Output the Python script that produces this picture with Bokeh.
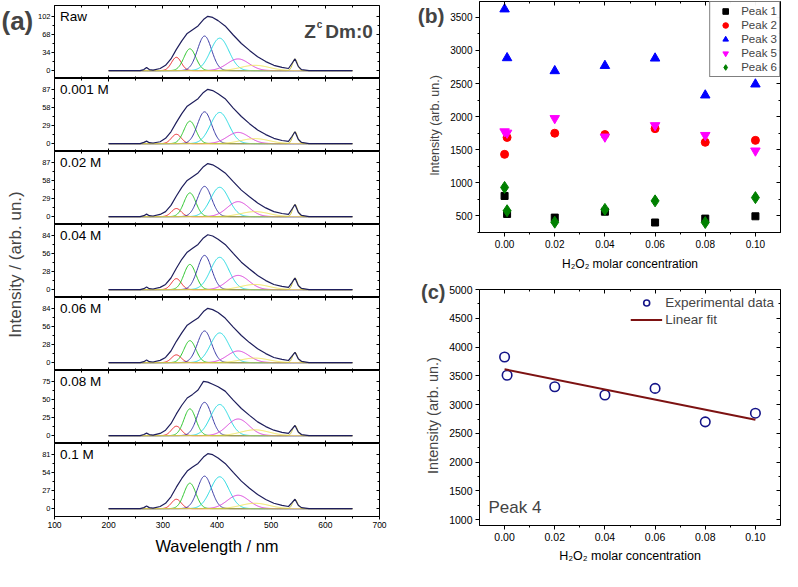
import numpy as np
from bokeh.plotting import figure
from bokeh.layouts import row, column
from bokeh.models import (Range1d, FixedTicker, SingleIntervalTicker, LinearAxis, Label,
                          NumeralTickFormatter)
from bokeh.embed import file_html
from bokeh.resources import INLINE

FONT = "Liberation Sans"

# ---------------- Panel (a) data ----------------
panel_names = ["Raw", "0.001 M", "0.02 M", "0.04 M", "0.06 M", "0.08 M", "0.1 M"]
panel_top_ticks = [102, 87, 87, 84, 84, 75, 81]
wavelength_ticks = [100, 200, 300, 400, 500, 600, 700]
wavelength_minor = [150, 250, 350, 450, 550, 650]

# measured spectra (envelopes), intensity read at these wavelengths
env_wl = [200, 258, 265, 270, 275, 282, 295, 305, 315, 325, 335, 345, 355, 365, 375, 383,
          392, 402, 415, 430, 445, 460, 475, 490, 505, 520, 532, 538, 544, 550, 556, 570, 650]
env_raw = [0, 0, 2, 6, 2, 1, 4, 10, 22, 40, 56, 70, 77, 84, 96, 102,
           100, 94, 84, 67, 51, 38, 26, 17, 10, 6, 4, 13, 22, 8, 2, 0, 0]
env_0001 = [0, 0, 2, 4, 1.5, 1, 3, 8.5, 19, 34, 48, 60, 66, 72, 82, 87,
            85, 80, 72, 57, 43.5, 32, 22, 14.5, 8.5, 5, 3.5, 11, 19, 7, 2, 0, 0]
env_002 = [0, 0, 1.5, 4, 1.5, 1, 3.5, 8, 18, 33, 47, 58, 64, 70, 80, 85,
           83, 78, 70, 56, 42.5, 32, 22, 14, 8, 5, 3.5, 11.5, 19.5, 7, 2, 0, 0]
env_004 = [0, 0, 1.5, 4, 1.5, 1, 3.5, 8, 18, 33, 47, 58, 64, 70, 80, 85,
           83, 78, 70, 56, 42.5, 32, 22, 14, 8, 5, 3.5, 10.5, 18, 6.5, 2, 0, 0]
env_006 = [0, 0, 1.5, 4, 1.5, 1, 3.5, 8, 18, 33, 46, 58, 63.5, 69, 79, 84,
           82, 77.5, 69, 55, 42, 31, 21.5, 14, 8, 5, 3.3, 9.5, 16, 6, 2, 0, 0]
env_008 = [0, 0, 1.5, 3.5, 1.5, 0.8, 3, 7.5, 16.5, 30, 42, 52, 57, 63, 75, 74,
           71, 67.5, 61.5, 49, 37.5, 28, 19, 12.5, 7.5, 4.5, 3, 8.5, 14, 5, 1.5, 0, 0]
env_010 = [0, 0, 1.5, 4, 1.5, 0.8, 3.2, 8, 17.7, 32, 45, 56, 62, 67.5, 77, 82,
           80.5, 75.5, 67.5, 54, 41, 30.5, 21, 13.7, 8, 4.8, 3.2, 8.5, 14, 5, 1.5, 0, 0]
envelopes = [env_raw, env_0001, env_002, env_004, env_006, env_008, env_010]

# fitted Gaussian components: centre (nm), width (sigma, nm), height per spectrum
comp_centers = [325, 350, 377, 405, 439, 470, 544]
comp_sigmas = [9, 11, 13, 17, 20, 26, 4.5]
comp_colors = ["#e8262a", "#2fc62f", "#3b3ba6", "#27d9e0", "#d83fd8", "#efe45a", "#c9c23c"]
comp_h_raw = [25, 41, 65, 61, 22, 10, 22]
comp_h_0001 = [15, 36, 51, 50, 18, 8, 19]
comp_h_002 = [13, 38, 48.5, 47, 24, 8, 19.5]
comp_h_004 = [17, 39, 53, 50, 22, 8, 18]
comp_h_006 = [12, 34, 49, 46, 18, 7, 16]
comp_h_008 = [13, 37, 46, 43, 23, 8, 14]
comp_h_010 = [14, 38, 48.5, 47.5, 20, 8, 14]
comp_heights = [comp_h_raw, comp_h_0001, comp_h_002, comp_h_004, comp_h_006, comp_h_008, comp_h_010]

# ---------------- Panel (b) / (c) data ----------------
conc = [0.0, 0.001, 0.02, 0.04, 0.06, 0.08, 0.10]
peak1 = [802, 530, 475, 564, 401, 460, 495]
peak2 = [1431, 1686, 1750, 1730, 1819, 1613, 1642]
peak3 = [3624, 2887, 2691, 2770, 2882, 2324, 2490]
peak5 = [1775, 1755, 1975, 1696, 1868, 1720, 1485]
peak6 = [931, 579, 406, 599, 728, 401, 777]
peak4 = [3828, 3511, 3310, 3167, 3282, 2701, 2851]
fit_x = [0.0, 0.10]
fit_y = [3615, 2736]

conc_ticks = [0.0, 0.02, 0.04, 0.06, 0.08, 0.10]
conc_minor = [0.01, 0.03, 0.05, 0.07, 0.09]
b_y_ticks = [500, 1000, 1500, 2000, 2500, 3000, 3500]
b_y_minor = [250, 750, 1250, 1750, 2250, 2750, 3250]
c_y_ticks = [1000, 1500, 2000, 2500, 3000, 3500, 4000, 4500, 5000]
c_y_minor = [1250, 1750, 2250, 2750, 3250, 3750, 4250, 4750]


def style_axis(ax, size, tick_out=3, minor_out=2):
    ax.axis_line_color = "black"
    ax.major_tick_line_color = "black"
    ax.minor_tick_line_color = "black"
    ax.major_tick_out = tick_out
    ax.major_tick_in = 0
    ax.minor_tick_out = minor_out
    ax.minor_tick_in = 0
    ax.major_label_text_font = FONT
    ax.major_label_text_font_size = size
    ax.major_label_text_color = "black"
    ax.axis_label_text_font = FONT
    ax.axis_label_text_font_style = "normal"
    ax.axis_label_text_color = "black"


def tick_axis(p, side, positions, length):
    # label-free axis: positions are given as minor ticks, which carry no labels
    ax = LinearAxis(ticker=FixedTicker(ticks=[], minor_ticks=positions),
                    major_label_standoff=0, major_tick_in=0, major_tick_out=0,
                    minor_tick_in=length, minor_tick_out=0, axis_line_color=None,
                    minor_tick_line_color="black")
    p.add_layout(ax, side)


def base_fig(**kw):
    p = figure(output_backend="svg", toolbar_location=None, **kw)
    p.grid.visible = False
    p.outline_line_color = "black"
    p.outline_line_width = 1
    p.background_fill_color = "white"
    p.border_fill_color = "white"
    return p


# ---------------- Panel (a) ----------------
wl_grid = np.arange(200.0, 650.5, 1.0)
xr_a = Range1d(100, 700)
xt_a = FixedTicker(ticks=wavelength_ticks, minor_ticks=wavelength_minor)

a_figs = []
n = len(panel_names)
for i, name in enumerate(panel_names):
    T = panel_top_ticks[i]
    is_top = i == 0
    is_bot = i == n - 1
    h = 73 + (5 if is_top else 0) + (42 if is_bot else 0)
    extra = {} if is_bot else {"x_axis_type": None}
    p = base_fig(width=356, height=h, x_range=xr_a, y_range=Range1d(-0.145 * T, 1.2 * T),
                 min_border_left=18, min_border_right=11,
                 min_border_top=5 if is_top else 0, min_border_bottom=42 if is_bot else 0,
                 **extra)
    y_major = [0, T // 3, 2 * T // 3, T]
    y_minor = [T / 6, T / 2, 5 * T / 6]
    p.yaxis.ticker = FixedTicker(ticks=y_major, minor_ticks=y_minor)
    style_axis(p.yaxis[0], "7.5px", 3, 2)
    p.yaxis.major_label_standoff = 1
    if is_bot:
        p.xaxis.ticker = xt_a
        style_axis(p.xaxis[0], "8.5px", 3, 2)
        p.xaxis.major_label_standoff = 2
        p.xaxis.axis_label = "Wavelength / nm"
        p.xaxis.axis_label_text_font_size = "16.5px"
        p.xaxis.axis_label_standoff = 6
    else:
        tick_axis(p, "below", wavelength_ticks, 3)
        tick_axis(p, "below", wavelength_minor, 2)
    tick_axis(p, "above", wavelength_ticks, 3)
    tick_axis(p, "above", wavelength_minor, 2)
    tick_axis(p, "right", y_major, 3)
    tick_axis(p, "right", y_minor, 2)

    for c, s, col, hh in zip(comp_centers, comp_sigmas, comp_colors, comp_heights[i]):
        p.line(wl_grid, hh * np.exp(-0.5 * ((wl_grid - c) / s) ** 2), color=col, line_width=1)
    p.line(env_wl, envelopes[i], color="#1e1e5c", line_width=1.2)

    p.add_layout(Label(x=110, y=T, text=name, text_font=FONT, text_font_size="13.5px",
                       text_baseline="middle", text_color="black"))
    if is_top:
        p.add_layout(Label(x=561, y=73.5, text="Z", text_font=FONT, text_font_size="19px",
                           text_font_style="bold", text_baseline="alphabetic"))
        p.add_layout(Label(x=584, y=87.5, text="c", text_font=FONT, text_font_size="10px",
                           text_font_style="bold", text_baseline="alphabetic"))
        p.add_layout(Label(x=600, y=73.5, text="Dm:0", text_font=FONT, text_font_size="19px",
                           text_font_style="bold", text_baseline="alphabetic"))
    a_figs.append(p)

lab = figure(width=34, height=558, x_range=Range1d(0, 34), y_range=Range1d(0, 558),
             output_backend="svg", toolbar_location=None, min_border=0,
             x_axis_type=None, y_axis_type=None)
lab.grid.visible = False
lab.outline_line_color = None
lab.add_layout(Label(x=1, y=538, text="(a)", text_font=FONT, text_font_size="26px",
                     text_font_style="bold", text_baseline="middle"))
lab.add_layout(Label(x=15, y=294, text="Intensity / (arb. un.)", angle=np.pi / 2,
                     text_font=FONT, text_font_size="17px", text_align="center",
                     text_baseline="middle"))

# ---------------- Panel (b) ----------------
pb = base_fig(width=336, height=273, x_range=Range1d(-0.01, 0.11), y_range=Range1d(250, 3740),
              min_border_left=32, min_border_right=2, min_border_top=1, min_border_bottom=39)
pb.xaxis.ticker = FixedTicker(ticks=conc_ticks, minor_ticks=conc_minor)
pb.yaxis.ticker = FixedTicker(ticks=b_y_ticks, minor_ticks=b_y_minor)
pb.xaxis.formatter = NumeralTickFormatter(format="0.00")
style_axis(pb.xaxis[0], "10px", 4, 2)
style_axis(pb.yaxis[0], "10px", 4, 2)
pb.xaxis.major_label_standoff = 3
pb.yaxis.major_label_standoff = 3
pb.xaxis.axis_label = "H₂O₂ molar concentration"
pb.xaxis.axis_label_text_font_size = "12px"
pb.xaxis.axis_label_standoff = 6
tick_axis(pb, "above", conc_ticks, 4)
tick_axis(pb, "above", conc_minor, 2)
tick_axis(pb, "right", b_y_ticks, 4)
tick_axis(pb, "right", b_y_minor, 2)

pb.scatter(conc, peak1, marker="square", size=7, color="black", legend_label="Peak 1")
pb.scatter(conc, peak2, marker="circle", size=8, color="#ff0000", legend_label="Peak 2")
pb.scatter(conc, peak3, marker="triangle", size=9.5, color="#0000ff", legend_label="Peak 3")
pb.scatter(conc, peak5, marker="inverted_triangle", size=9.5, color="#ff00ff", legend_label="Peak 5")
pb.scatter(conc, peak6, marker="diamond", size=12, color="#008000", legend_label="Peak 6")
lg = pb.legend[0]
lg.location = "top_right"
lg.margin = 0
lg.padding = 2
lg.spacing = 0
lg.label_text_font = FONT
lg.label_text_font_size = "11.5px"
lg.label_height = 14
lg.glyph_height = 14
lg.glyph_width = 26
lg.label_standoff = 3
lg.border_line_color = "black"
lg.border_line_width = 1

# ---------------- Panel (c) ----------------
pc = base_fig(width=336, height=298, x_range=Range1d(-0.01, 0.11), y_range=Range1d(900, 5000),
              min_border_left=32, min_border_right=2, min_border_top=16, min_border_bottom=46)
pc.xaxis.ticker = FixedTicker(ticks=conc_ticks, minor_ticks=conc_minor)
pc.yaxis.ticker = FixedTicker(ticks=c_y_ticks, minor_ticks=c_y_minor)
pc.xaxis.formatter = NumeralTickFormatter(format="0.00")
style_axis(pc.xaxis[0], "10.5px", 4, 2)
style_axis(pc.yaxis[0], "10.5px", 4, 2)
pc.xaxis.major_label_standoff = 3
pc.yaxis.major_label_standoff = 3
pc.xaxis.axis_label = "H₂O₂ molar concentration"
pc.xaxis.axis_label_text_font_size = "12.5px"
pc.xaxis.axis_label_standoff = 5
tick_axis(pc, "above", conc_ticks, 4)
tick_axis(pc, "above", conc_minor, 2)
tick_axis(pc, "right", c_y_ticks, 4)
tick_axis(pc, "right", c_y_minor, 2)

pc.scatter(conc, peak4, marker="circle", size=9.5, fill_color=None, line_color="#141488",
           line_width=1.6, legend_label="Experimental data")
pc.line(fit_x, fit_y, color="#7d1212", line_width=2, legend_label="Linear fit")
lc = pc.legend[0]
lc.location = "top_right"
lc.margin = 6
lc.padding = 0
lc.spacing = 2
lc.label_text_font = FONT
lc.label_text_font_size = "13.5px"
lc.label_height = 15
lc.glyph_height = 15
lc.glyph_width = 32
lc.label_standoff = 3
lc.border_line_color = None
lc.background_fill_alpha = 0
pc.add_layout(Label(x=-0.0064, y=1210, text="Peak 4", text_font=FONT, text_font_size="17px",
                    text_baseline="middle"))

# ---------------- right-hand label column for (b) and (c) ----------------
rlab = figure(width=56, height=571, x_range=Range1d(0, 56), y_range=Range1d(0, 571),
              output_backend="svg", toolbar_location=None, min_border=0,
              x_axis_type=None, y_axis_type=None)
rlab.grid.visible = False
rlab.outline_line_color = None
rlab.add_layout(Label(x=54, y=556, text="(b)", text_font=FONT, text_font_size="21px",
                      text_font_style="bold", text_align="right", text_baseline="middle"))
rlab.add_layout(Label(x=44, y=446, text="Intensity (arb. un.)", angle=np.pi / 2,
                      text_font=FONT, text_font_size="12.5px", text_align="center",
                      text_baseline="middle"))
rlab.add_layout(Label(x=55, y=280, text="(c)", text_font=FONT, text_font_size="20px",
                      text_font_style="bold", text_align="right", text_baseline="middle"))
rlab.add_layout(Label(x=42, y=156, text="Intensity (arb. un.)", angle=np.pi / 2,
                      text_font=FONT, text_font_size="14.5px", text_align="center",
                      text_baseline="middle"))

layout = row(row(lab, column(*a_figs)), row(rlab, column(pb, pc)))

with open("out.html", "w") as f:
    f.write(file_html(layout, INLINE))
